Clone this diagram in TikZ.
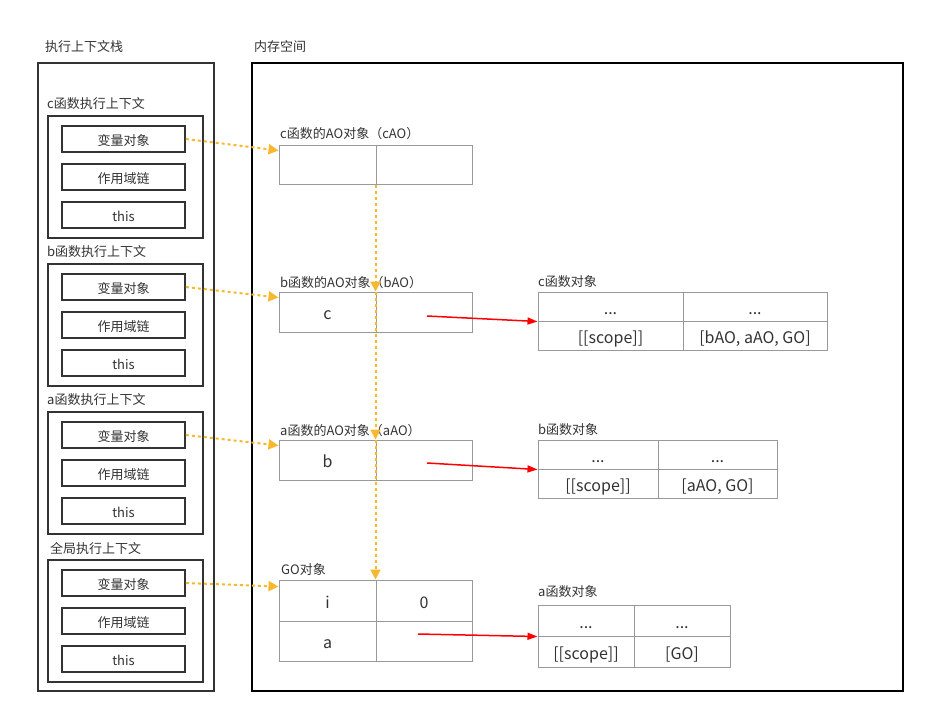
\documentclass[tikz,border=0pt]{standalone}
\usepackage{fontspec}
\setmainfont{Noto Sans CJK SC}
\usepackage{tikz}
\usetikzlibrary{arrows.meta, positioning}
\definecolor{txtgray}{HTML}{333333}
\definecolor{cellgray}{HTML}{999999}
\definecolor{voyellow}{HTML}{F8B82E}
\tikzstyle{frame} = [rectangle, draw=txtgray, line width=1.8pt, inner sep=0pt]
\tikzstyle{slot} = [rectangle, draw=txtgray, line width=1.8pt, inner sep=0pt, minimum width=123pt, minimum height=26pt, text height=12pt, text depth=0pt, text=txtgray, font=\fontsize{13}{15}\selectfont]
\tikzstyle{cell} = [rectangle, draw=cellgray, line width=1pt, inner sep=0pt, text height=15pt, text depth=0pt, text=txtgray, font=\fontsize{16}{18}\selectfont]
\tikzstyle{lbl} = [anchor=west, inner sep=0pt, text=txtgray, font=\fontsize{13}{15}\selectfont]
\tikzstyle{link} = [draw=voyellow, line width=2pt, dash pattern=on 3pt off 3pt, -{Triangle[length=10pt,width=10pt]}]
\tikzstyle{ref} = [draw=red, line width=1.5pt, -{Triangle[length=10pt,width=7pt]}]

\begin{document}
\begin{tikzpicture}[x=1pt, y=-1pt]
	\useasboundingbox (0,0) rectangle (928,716);
	% execution context stack
	\node (stacklbl) [lbl] at (45,47) {执行上下文栈};
	\node (stack) [frame, minimum width=176pt, minimum height=628pt] at (126,377) {};
	\node (cctxlbl) [lbl] at (47,104) {c函数执行上下文};
	\node (cctx) [frame, minimum width=155pt, minimum height=122pt] at (125.5,177) {};
	\node (cvar) [slot] at (123.5,139) {变量对象};
	\node (cscope) [slot] at (123.5,177) {作用域链};
	\node (cthis) [slot] at (123.5,215) {this};
	\node (bctxlbl) [lbl] at (47,252) {b函数执行上下文};
	\node (bctx) [frame, minimum width=155pt, minimum height=122pt] at (125.5,325) {};
	\node (bvar) [slot] at (123.5,287) {变量对象};
	\node (bscope) [slot] at (123.5,325) {作用域链};
	\node (bthis) [slot] at (123.5,363) {this};
	\node (actxlbl) [lbl] at (47,400) {a函数执行上下文};
	\node (actx) [frame, minimum width=155pt, minimum height=122pt] at (125.5,473) {};
	\node (avar) [slot] at (123.5,435) {变量对象};
	\node (ascope) [slot] at (123.5,473) {作用域链};
	\node (athis) [slot] at (123.5,511) {this};
	\node (gctxlbl) [lbl] at (50,548) {全局执行上下文};
	\node (gctx) [frame, minimum width=155pt, minimum height=122pt] at (125.5,621) {};
	\node (gvar) [slot] at (123.5,583) {变量对象};
	\node (gscope) [slot] at (123.5,621) {作用域链};
	\node (gthis) [slot] at (123.5,659) {this};
	% memory
	\node (memlbl) [lbl] at (254,47) {内存空间};
	\node (mem) [frame, draw=black, line width=1.5pt, minimum width=651pt, minimum height=628pt] at (577.5,377) {};
	% activation objects
	\node (cAOlbl) [lbl] at (280,134) {c函数的AO对象（cAO）};
	\node (cAOl) [cell, minimum width=97pt, minimum height=39pt] at (327.5,164.5) {};
	\node (cAOr) [cell, minimum width=96pt, minimum height=39pt] at (424,164.5) {};
	\node (bAOlbl) [lbl] at (280,283) {b函数的AO对象（bAO）};
	\node (bAOl) [cell, minimum width=97pt, minimum height=40pt] at (327.5,312) {c};
	\node (bAOr) [cell, minimum width=96pt, minimum height=40pt] at (424,312) {};
	\node (aAOlbl) [lbl] at (280,431) {a函数的AO对象（aAO）};
	\node (aAOl) [cell, minimum width=97pt, minimum height=40pt] at (327.5,460) {b};
	\node (aAOr) [cell, minimum width=96pt, minimum height=40pt] at (424,460) {};
	\node (GOlbl) [lbl] at (281,570) {GO对象};
	\node (GOl1) [cell, minimum width=97pt, minimum height=41pt] at (327.5,600.5) {i};
	\node (GOr1) [cell, minimum width=96pt, minimum height=41pt] at (424,600.5) {0};
	\node (GOl2) [cell, minimum width=97pt, minimum height=40pt] at (327.5,641) {a};
	\node (GOr2) [cell, minimum width=96pt, minimum height=40pt] at (424,641) {};
	% function objects
	\node (cfnlbl) [lbl] at (538,282) {c函数对象};
	\node (cfn1) [cell, minimum width=145pt, minimum height=29pt] at (610.5,306.5) {...};
	\node (cfn2) [cell, minimum width=144pt, minimum height=29pt] at (755,306.5) {...};
	\node (cfn3) [cell, minimum width=145pt, minimum height=29pt] at (610.5,335.5) {[[scope]]};
	\node (cfn4) [cell, minimum width=144pt, minimum height=29pt] at (755,335.5) {[bAO, aAO, GO]};
	\node (bfnlbl) [lbl] at (538,430) {b函数对象};
	\node (bfn1) [cell, minimum width=120pt, minimum height=29pt] at (598,454.5) {...};
	\node (bfn2) [cell, minimum width=119pt, minimum height=29pt] at (717.5,454.5) {...};
	\node (bfn3) [cell, minimum width=120pt, minimum height=29pt] at (598,483.5) {[[scope]]};
	\node (bfn4) [cell, minimum width=119pt, minimum height=29pt] at (717.5,483.5) {[aAO, GO]};
	\node (afnlbl) [lbl] at (538,592) {a函数对象};
	\node (afn1) [cell, minimum width=96pt, minimum height=31pt] at (586,620.5) {...};
	\node (afn2) [cell, minimum width=96pt, minimum height=31pt] at (682,620.5) {...};
	\node (afn3) [cell, minimum width=96pt, minimum height=31pt] at (586,651.5) {[[scope]]};
	\node (afn4) [cell, minimum width=96pt, minimum height=31pt] at (682,651.5) {[GO]};
	% variable objects -> AO / GO
	\draw [link] (cvar.east) -- ([yshift=-6pt]cAOl.north west);
	\draw [link] (bvar.east) -- ([yshift=-6pt]bAOl.north west);
	\draw [link] (avar.east) -- ([yshift=-6pt]aAOl.north west);
	\draw [link] (gvar.east) -- ([yshift=-7pt]GOl1.north west);
	% scope chain
	\draw [link] (cAOr.south west) -- (bAOr.north west);
	\draw [link] (bAOr.north west) -- (aAOr.north west);
	\draw [link] (aAOr.north west) -- (GOr1.north west);
	% references to function objects
	\draw [ref] ([xshift=3pt,yshift=-4pt]bAOr.center) -- (cfn1.south west);
	\draw [ref] ([xshift=3pt,yshift=-3pt]aAOr.center) -- (bfn1.south west);
	\draw [ref] ([xshift=-6pt,yshift=7pt]GOr2.center) -- (afn1.south west);
\end{tikzpicture}
\end{document}
